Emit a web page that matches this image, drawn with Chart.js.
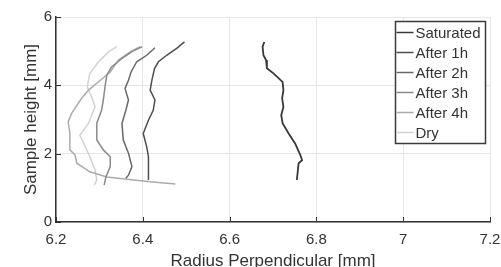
<!DOCTYPE html>
<html>
<head>
<meta charset="utf-8">
<script src="https://cdn.jsdelivr.net/npm/chart.js@4/dist/chart.umd.min.js"></script>
<style>
  html, body { margin:0; padding:0; background:#fff; }
  #c { display:block; }
</style>
</head>
<body>
<canvas id="c" width="501" height="267"></canvas>
<script>
const seriesNames = ['Saturated','After 1h','After 2h','After 3h','After 4h','Dry'];
const seriesColors = ['#383838','#4e4e4e','#686868','#8a8a8a','#ababab','#d2d2d2'];

// radius [mm] / height [mm] per profile
const satR  = [6.680,6.676,6.678,6.684,6.686,6.701,6.722,6.724,6.721,6.724,6.719,6.722,6.736,6.751,6.763,6.767,6.759,6.755];
const satH  = [5.27,5.13,4.88,4.74,4.50,4.35,4.10,3.86,3.62,3.37,3.13,2.89,2.59,2.30,1.96,1.81,1.72,1.23];
const h1R   = [6.496,6.478,6.455,6.436,6.427,6.421,6.417,6.428,6.424,6.413,6.401,6.409,6.413,6.413,6.413];
const h1H   = [5.27,5.08,4.88,4.69,4.49,4.15,3.86,3.57,3.27,2.98,2.59,2.20,1.91,1.52,1.23];
const h2R   = [6.428,6.409,6.386,6.373,6.367,6.359,6.367,6.361,6.352,6.355,6.367,6.375,6.367,6.361];
const h2H   = [5.10,4.88,4.69,4.39,4.15,3.91,3.57,3.27,2.89,2.40,2.01,1.62,1.37,1.28];
const h3R   = [6.398,6.378,6.352,6.328,6.317,6.313,6.309,6.305,6.294,6.294,6.309,6.325,6.325,6.315,6.311];
const h3H   = [5.13,5.01,4.79,4.54,4.30,3.96,3.57,3.27,2.89,2.40,2.11,1.91,1.62,1.32,1.08];
const h4R   = [6.394,6.371,6.344,6.325,6.302,6.275,6.259,6.236,6.228,6.232,6.232,6.244,6.248,6.278,6.317,6.363,6.417,6.475];
const h4H   = [5.13,4.98,4.74,4.39,4.15,3.86,3.62,3.18,2.93,2.59,2.11,1.96,1.72,1.47,1.32,1.25,1.18,1.11];
const dryR  = [6.340,6.321,6.298,6.278,6.272,6.282,6.290,6.275,6.255,6.264,6.278,6.290,6.294,6.288];
const dryH  = [5.13,4.98,4.69,4.35,3.96,3.66,3.37,2.89,2.54,2.30,1.91,1.52,1.23,1.08];

const xTicks = [6.2,6.4,6.6,6.8,7,7.2];
const yTicks = [0,2,4,6];

const radii = [satR,h1R,h2R,h3R,h4R,dryR];
const heights = [satH,h1H,h2H,h3H,h4H,dryH];

const FONT = 'Liberation Sans, Arial, Helvetica, sans-serif';
const TXT = '#333333';

function pts(xs, ys){ return xs.map((x,i)=>({x, y: ys[i]})); }

// MATLAB style inward ticks + boxed legend
const decor = {
  id: 'decor',
  afterDraw(chart){
    const {ctx, chartArea: a, scales: {x, y}} = chart;
    ctx.save();
    ctx.strokeStyle = TXT; ctx.lineWidth = 1;
    xTicks.forEach(v=>{ const px = Math.round(x.getPixelForValue(v))+0.5; ctx.beginPath(); ctx.moveTo(px,a.bottom); ctx.lineTo(px,a.bottom-5); ctx.stroke(); });
    yTicks.forEach(v=>{ const py = Math.round(y.getPixelForValue(v))+0.5; ctx.beginPath(); ctx.moveTo(a.left,py); ctx.lineTo(a.left+5,py); ctx.stroke(); });

    const bx = 395.5, by = 21.5, bw = 90, bh = 122;
    ctx.fillStyle = '#fff'; ctx.fillRect(bx,by,bw,bh);
    ctx.lineWidth = 1.5; ctx.strokeStyle = '#3a3a3a'; ctx.strokeRect(bx,by,bw,bh);
    ctx.font = '15px ' + FONT; ctx.textBaseline = 'middle'; ctx.textAlign = 'left';
    chart.data.datasets.forEach((ds,i)=>{
      const ry = 32.5 + i*20;
      ctx.strokeStyle = ds.borderColor; ctx.lineWidth = 1.5;
      ctx.beginPath(); ctx.moveTo(bx+1,ry); ctx.lineTo(bx+18,ry); ctx.stroke();
      ctx.fillStyle = TXT; ctx.fillText(ds.label, bx+20, ry+1);
    });
    ctx.restore();
  }
};

new Chart(document.getElementById('c'), {
  type: 'scatter',
  data: {
    datasets: seriesNames.map((name,i)=>({
      label: name,
      data: pts(radii[i], heights[i]),
      showLine: true,
      borderColor: seriesColors[i],
      borderWidth: i === 0 ? 1.8 : 1.5,
      pointRadius: 0,
      tension: 0,
      order: i
    }))
  },
  options: {
    responsive: false,
    animation: false,
    devicePixelRatio: 1,
    layout: { padding: { top: 17, right: 11, left: 0, bottom: 0 } },
    plugins: { legend: { display: false }, tooltip: { enabled: false } },
    scales: {
      x: {
        type: 'linear', min: 6.2, max: 7.2,
        afterBuildTicks: s => { s.ticks = xTicks.map(v=>({value:v})); },
        afterFit: s => { s.height = 45; s.paddingLeft = 0; s.paddingRight = 0; },
        ticks: { font: { size: 15, family: FONT }, color: TXT, padding: 9, maxRotation: 0,
                 callback: v => String(+v.toFixed(1)) },
        grid: { color: '#e6e6e6', lineWidth: 1, drawTicks: false },
        border: { display: true, color: TXT, width: 1.5 },
        title: { display: true, text: 'Radius Perpendicular [mm]', color: TXT,
                 font: { size: 17, family: FONT, lineHeight: 1 }, padding: { top: 0, bottom: -2.8 } }
      },
      y: {
        type: 'linear', min: 0, max: 6,
        afterBuildTicks: s => { s.ticks = yTicks.map(v=>({value:v})); },
        afterFit: s => { s.width = 56; s.paddingTop = 0; s.paddingBottom = 0; },
        ticks: { font: { size: 15, family: FONT }, color: TXT, padding: 4 },
        grid: { color: '#e6e6e6', lineWidth: 1, drawTicks: false },
        border: { display: true, color: TXT, width: 1.5 },
        title: { display: true, text: 'Sample height [mm]', color: TXT,
                 font: { size: 17, family: FONT, lineHeight: 1.2 }, padding: { top: 21, bottom: 0 } }
      }
    }
  },
  plugins: [decor]
});
</script>
</body>
</html>
